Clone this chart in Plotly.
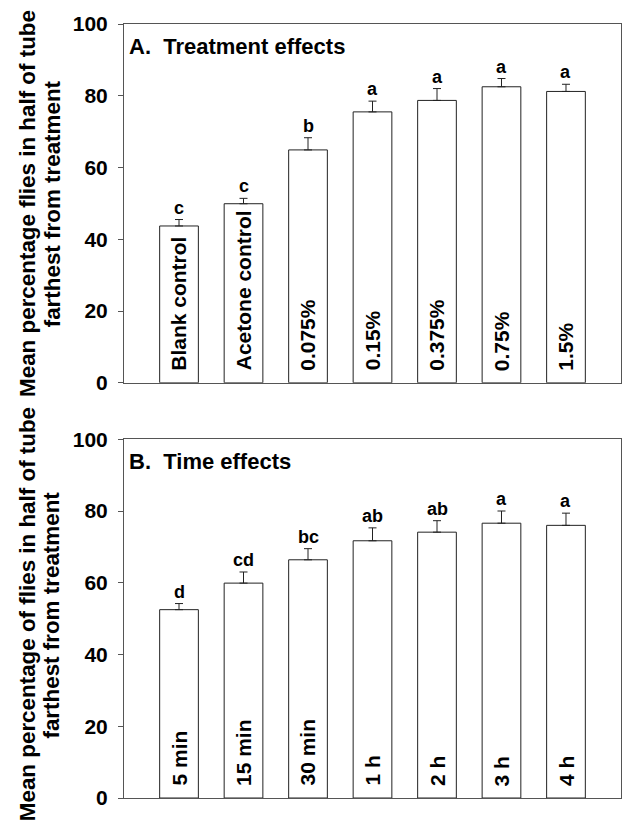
import plotly.graph_objects as go
from plotly.subplots import make_subplots

# Panel A: treatment effects
treat_labels = ["Blank control", "Acetone control", "0.075%", "0.15%", "0.375%", "0.75%", "1.5%"]
treat_means = [43.7, 49.9, 64.9, 75.5, 78.7, 82.5, 81.2]
treat_se = [1.8, 1.5, 3.4, 3.0, 3.3, 2.3, 2.0]
treat_letters = ["c", "c", "b", "a", "a", "a", "a"]

# Panel B: time effects
time_labels = ["5 min", "15 min", "30 min", "1 h", "2 h", "3 h", "4 h"]
time_means = [52.5, 59.9, 66.4, 71.7, 74.1, 76.6, 76.0]
time_se = [1.7, 3.1, 3.1, 3.6, 3.2, 3.4, 3.4]
time_letters = ["d", "cd", "bc", "ab", "ab", "a", "a"]

y_ticks = [0, 20, 40, 60, 80, 100]

FONT = "Liberation Sans, Arial, Helvetica, sans-serif"
LINE = "#555555"

fig = make_subplots(rows=2, cols=1, vertical_spacing=0.073)

panels = [
    (1, treat_labels, treat_means, treat_se, treat_letters, "A.\u00a0\u00a0Treatment effects",
     ["Mean percentage flies in half of tube", "farthest from treatment"], 0),
    (2, time_labels, time_means, time_se, time_letters, "B.\u00a0\u00a0Time effects",
     ["Mean percentage of flies in half of tube", "farthest from treatment"], 4),
]

for row, labels, means, se, letters, title, ytitle, ys in panels:
    fig.add_trace(go.Bar(
        x=labels, y=means, width=0.6,
        marker=dict(color="white", line=dict(color="#222222", width=1)),
        error_y=dict(type="data", symmetric=False, array=se, arrayminus=[0] * len(se),
                     color="#222222", thickness=1, width=4),
        showlegend=False, hoverinfo="skip",
    ), row=row, col=1)
    xref = "x" if row == 1 else "x2"
    yref = "y" if row == 1 else "y2"
    for lab, m, s, let in zip(labels, means, se, letters):
        fig.add_annotation(x=lab, y=m + s, xref=xref, yref=yref, text=let, showarrow=False,
                           yanchor="bottom", xanchor="center", yshift=0,
                           font=dict(family=FONT, size=18, color="black", weight="bold"))
        fig.add_annotation(x=lab, y=0, xref=xref, yref=yref, text=lab, showarrow=False,
                           textangle=-90, yanchor="bottom", xanchor="center", yshift=10,
                           font=dict(family=FONT, size=21, color="black", weight="bold"))
    fig.add_annotation(x=0.006, y=0.938, xref=f"{xref} domain", yref=f"{yref} domain",
                       text=title, showarrow=False, xanchor="left", yanchor="middle",
                       font=dict(family=FONT, size=22, color="black", weight="bold"))
    # two-line y-axis title, placed line by line for tighter spacing
    for line_text, xpos in zip(ytitle, [-0.194, -0.145]):
        fig.add_annotation(x=xpos, y=0.5, xref="paper", yref=f"{yref} domain",
                           text=line_text, showarrow=False, textangle=-90, yshift=ys,
                           xanchor="center", yanchor="middle",
                           font=dict(family=FONT, size=22.4, color="black", weight="bold"))
    fig.update_xaxes(row=row, col=1, range=[-0.853, 6.853], showticklabels=False, ticks="",
                     showline=True, linecolor=LINE, linewidth=1, mirror=True,
                     showgrid=False, zeroline=False, automargin=False)
    fig.update_yaxes(row=row, col=1, range=[0, 100], tickvals=y_ticks, ticks="outside",
                     ticklen=5, tickcolor=LINE, showline=True, linecolor=LINE, linewidth=1,
                     mirror=True, showgrid=False, zeroline=False, ticklabelstandoff=6,
                     automargin=False,
                     tickfont=dict(family=FONT, size=21, color="black", weight="bold"))

fig.update_layout(
    width=640, height=827,
    margin=dict(l=124, r=19, t=24, b=29),
    plot_bgcolor="white", paper_bgcolor="white",
    font=dict(family=FONT, color="black"),
)

fig.write_html("out.html", config={"displayModeBar": False},
               post_script="document.body.style.margin='0';")
